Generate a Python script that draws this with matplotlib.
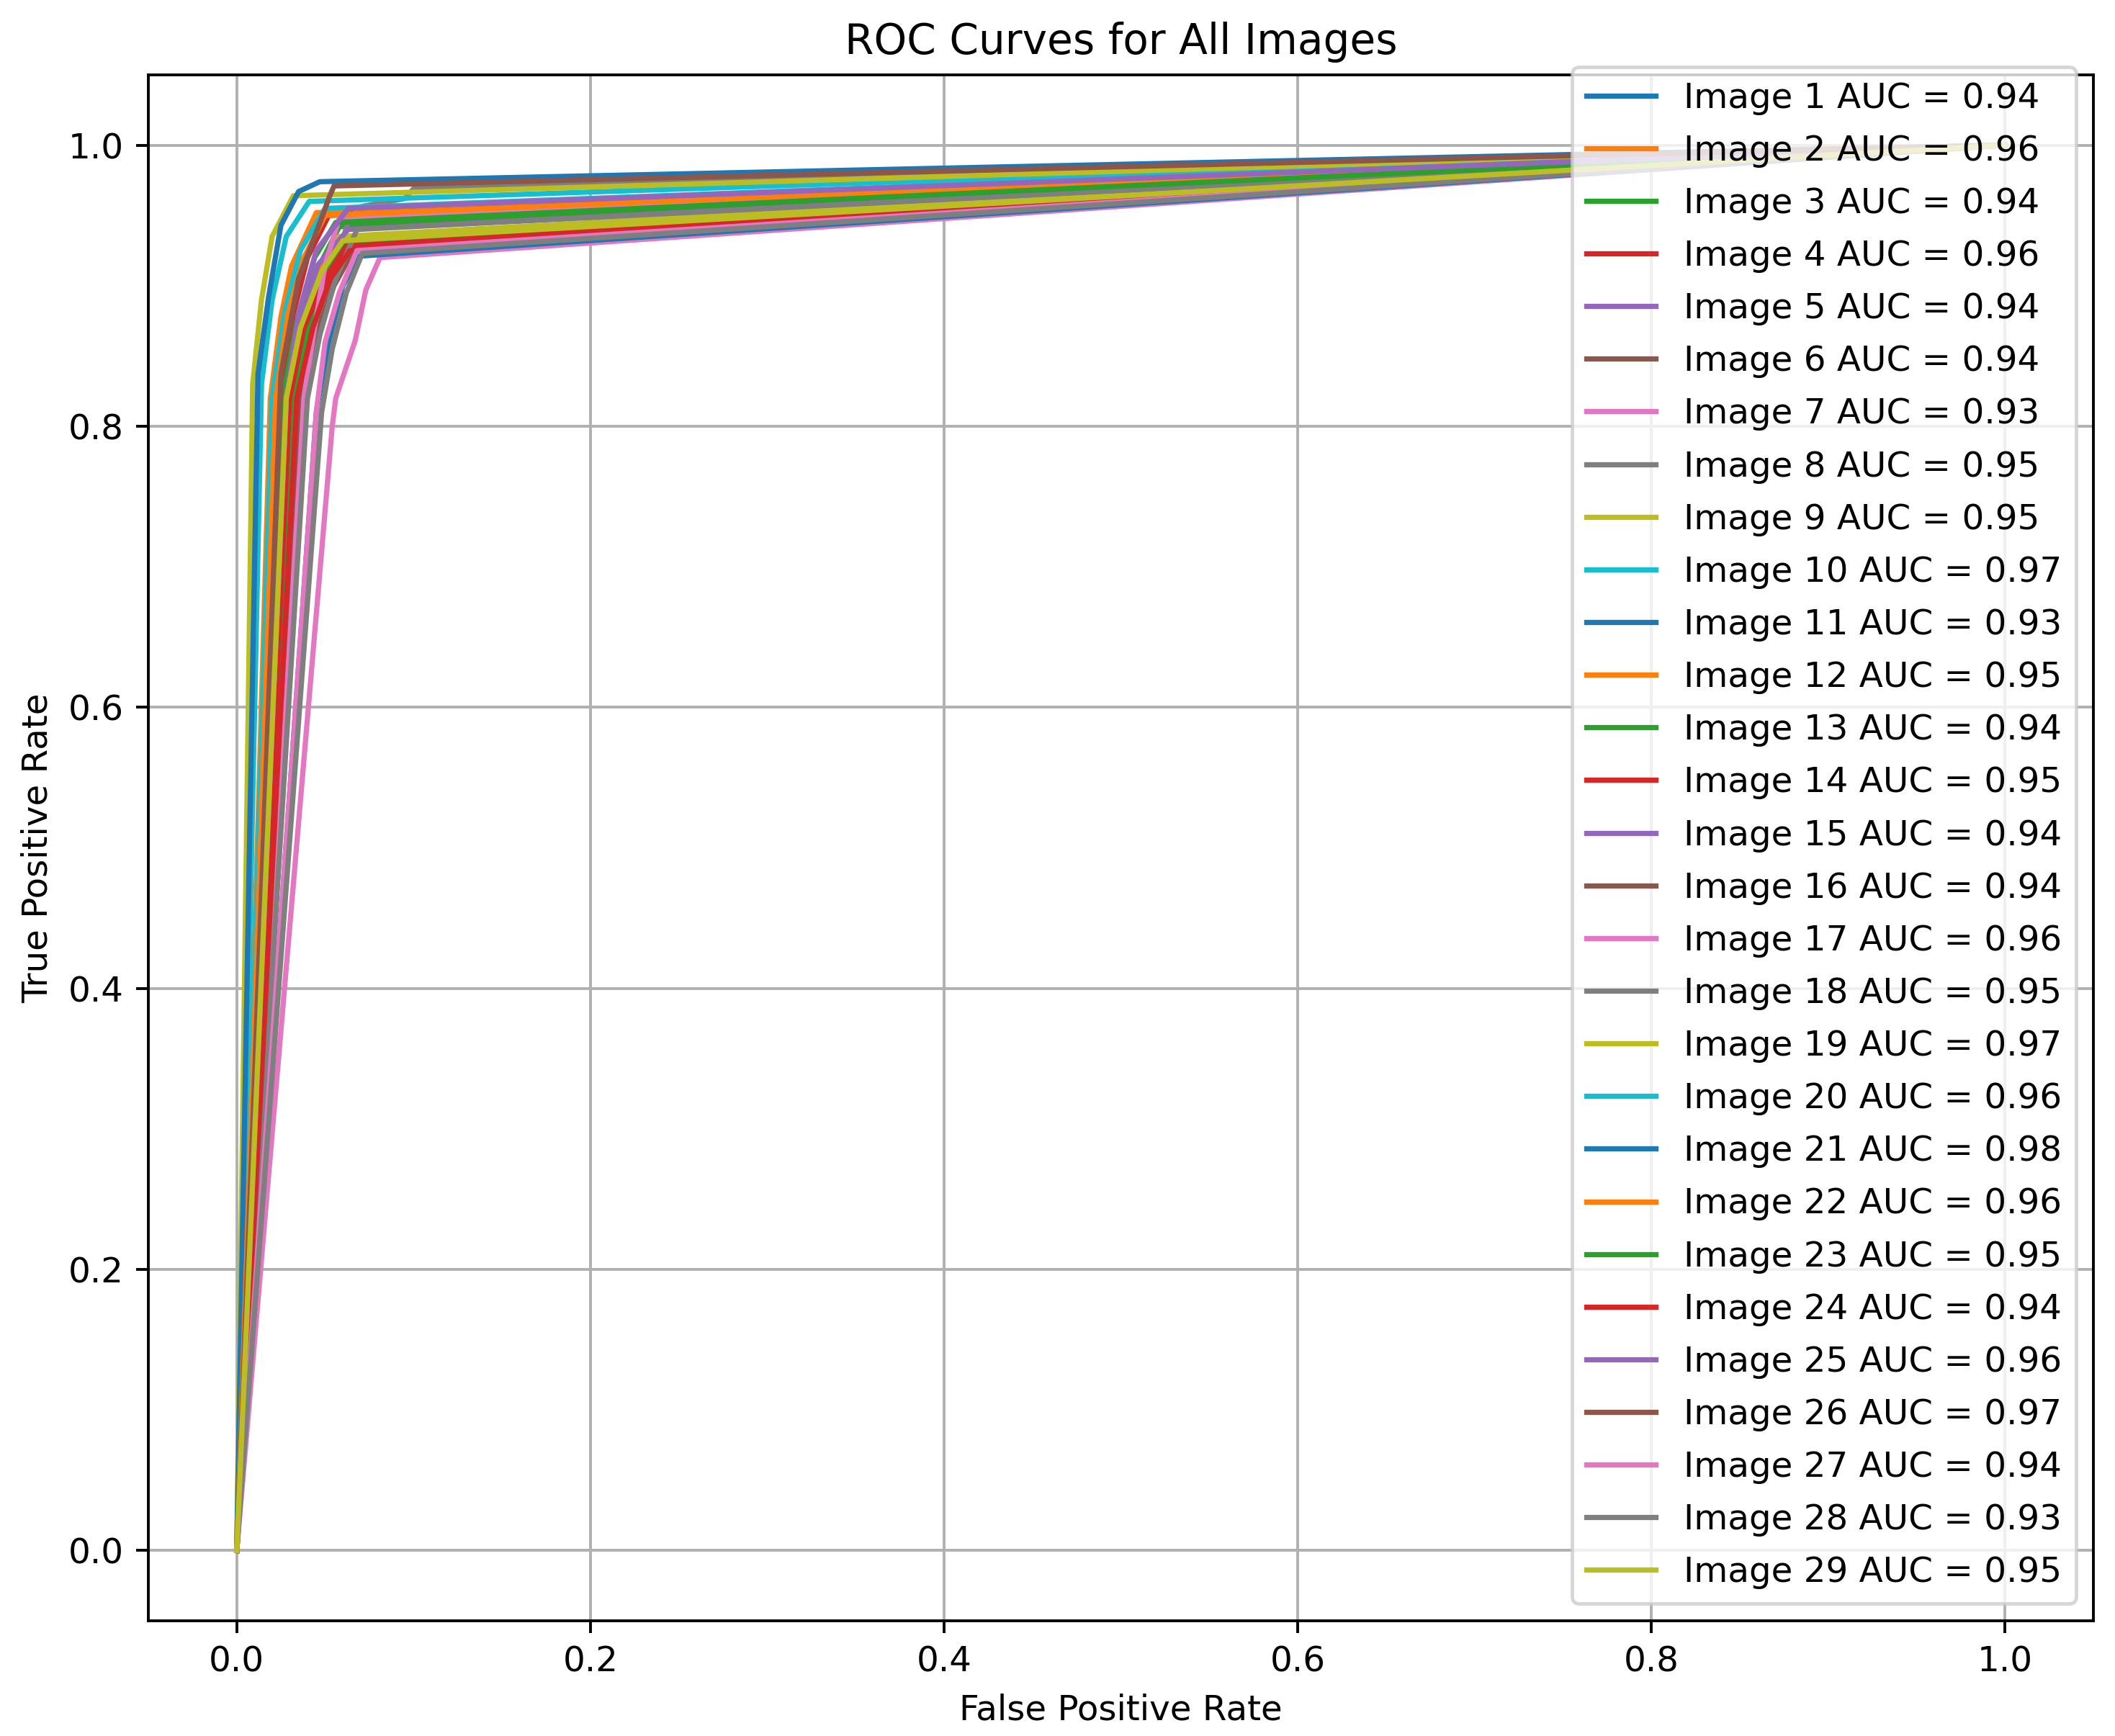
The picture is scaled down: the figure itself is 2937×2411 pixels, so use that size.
import matplotlib
matplotlib.use("Agg")
import matplotlib.pyplot as plt

# ROC points (one list per image)
image_names = [f"Image {i}" for i in range(1, 30)]

auc_values = [0.94, 0.96, 0.94, 0.96, 0.94, 0.94, 0.93, 0.95, 0.95, 0.97,
              0.93, 0.95, 0.94, 0.95, 0.94, 0.94, 0.96, 0.95, 0.97, 0.96,
              0.98, 0.96, 0.95, 0.94, 0.96, 0.97, 0.94, 0.93, 0.95]

fpr_values = [
    [0, 0.030, 0.040, 0.050, 0.062, 1],
    [0, 0.019, 0.025, 0.031, 0.045, 1],
    [0, 0.028, 0.036, 0.045, 0.058, 1],
    [0, 0.024, 0.032, 0.040, 0.052, 1],
    [0, 0.032, 0.041, 0.052, 0.066, 1],
    [0, 0.030, 0.040, 0.050, 0.063, 1],
    [0, 0.054, 0.056, 0.067, 0.073, 0.081, 1],
    [0, 0.035, 0.045, 0.055, 0.065, 0.095, 0.100, 1],
    [0, 0.030, 0.038, 0.048, 0.058, 1],
    [0, 0.014, 0.020, 0.028, 0.041, 1],
    [0, 0.045, 0.052, 0.060, 0.069, 1],
    [0, 0.026, 0.034, 0.045, 0.058, 1],
    [0, 0.033, 0.040, 0.050, 0.060, 1],
    [0, 0.030, 0.038, 0.050, 0.062, 1],
    [0, 0.028, 0.036, 0.046, 0.063, 1],
    [0, 0.036, 0.045, 0.055, 0.066, 1],
    [0, 0.038, 0.044, 0.050, 0.058, 1],
    [0, 0.040, 0.047, 0.056, 0.068, 1],
    [0, 0.009, 0.014, 0.020, 0.032, 1],
    [0, 0.020, 0.027, 0.036, 0.050, 1],
    [0, 0.012, 0.018, 0.025, 0.035, 0.047, 1],
    [0, 0.022, 0.029, 0.038, 0.050, 1],
    [0, 0.026, 0.034, 0.044, 0.056, 1],
    [0, 0.034, 0.043, 0.053, 0.064, 1],
    [0, 0.028, 0.035, 0.045, 0.063, 1],
    [0, 0.025, 0.035, 0.048, 0.052, 0.055, 1],
    [0, 0.045, 0.050, 0.058, 0.068, 1],
    [0, 0.048, 0.054, 0.062, 0.071, 1],
    [0, 0.028, 0.036, 0.048, 0.060, 1],
]

tpr_values = [
    [0, 0.82, 0.88, 0.915, 0.935, 1],
    [0, 0.82, 0.878, 0.914, 0.952, 1],
    [0, 0.82, 0.87, 0.91, 0.942, 1],
    [0, 0.82, 0.88, 0.92, 0.95, 1],
    [0, 0.82, 0.87, 0.905, 0.928, 1],
    [0, 0.82, 0.875, 0.91, 0.93, 1],
    [0, 0.80, 0.82, 0.861, 0.897, 0.92, 1],
    [0, 0.82, 0.87, 0.91, 0.955, 0.962, 0.969, 1],
    [0, 0.82, 0.875, 0.915, 0.935, 1],
    [0, 0.83, 0.89, 0.935, 0.960, 1],
    [0, 0.81, 0.86, 0.90, 0.921, 1],
    [0, 0.82, 0.87, 0.91, 0.93, 1],
    [0, 0.82, 0.87, 0.91, 0.93, 1],
    [0, 0.82, 0.87, 0.905, 0.928, 1],
    [0, 0.82, 0.875, 0.915, 0.94, 1],
    [0, 0.82, 0.865, 0.90, 0.925, 1],
    [0, 0.82, 0.87, 0.915, 0.948, 1],
    [0, 0.82, 0.865, 0.905, 0.94, 1],
    [0, 0.83, 0.89, 0.935, 0.964, 1],
    [0, 0.82, 0.88, 0.925, 0.955, 1],
    [0, 0.837, 0.892, 0.943, 0.967, 0.974, 1],
    [0, 0.82, 0.88, 0.92, 0.95, 1],
    [0, 0.82, 0.875, 0.92, 0.945, 1],
    [0, 0.82, 0.87, 0.905, 0.925, 1],
    [0, 0.82, 0.88, 0.925, 0.955, 1],
    [0, 0.837, 0.905, 0.948, 0.962, 0.971, 1],
    [0, 0.81, 0.86, 0.895, 0.925, 1],
    [0, 0.81, 0.855, 0.895, 0.923, 1],
    [0, 0.82, 0.87, 0.91, 0.932, 1],
]

dpi = 348.5
fig = plt.figure(figsize=(2937 / dpi, 2411 / dpi), dpi=dpi)
ax = fig.add_axes([206 / 2937, 1 - 2251 / 2411, 2701 / 2937, 2147 / 2411])

for name, fpr, tpr, auc in zip(image_names, fpr_values, tpr_values, auc_values):
    ax.plot(fpr, tpr, label=f"{name} AUC = {auc:.2f}")

ax.set_xlabel("False Positive Rate")
ax.set_ylabel("True Positive Rate")
ax.set_title("ROC Curves for All Images")
ax.legend(loc="lower right", labelspacing=0.54)
ax.grid(True)

fig.savefig("out.png", dpi=dpi)
